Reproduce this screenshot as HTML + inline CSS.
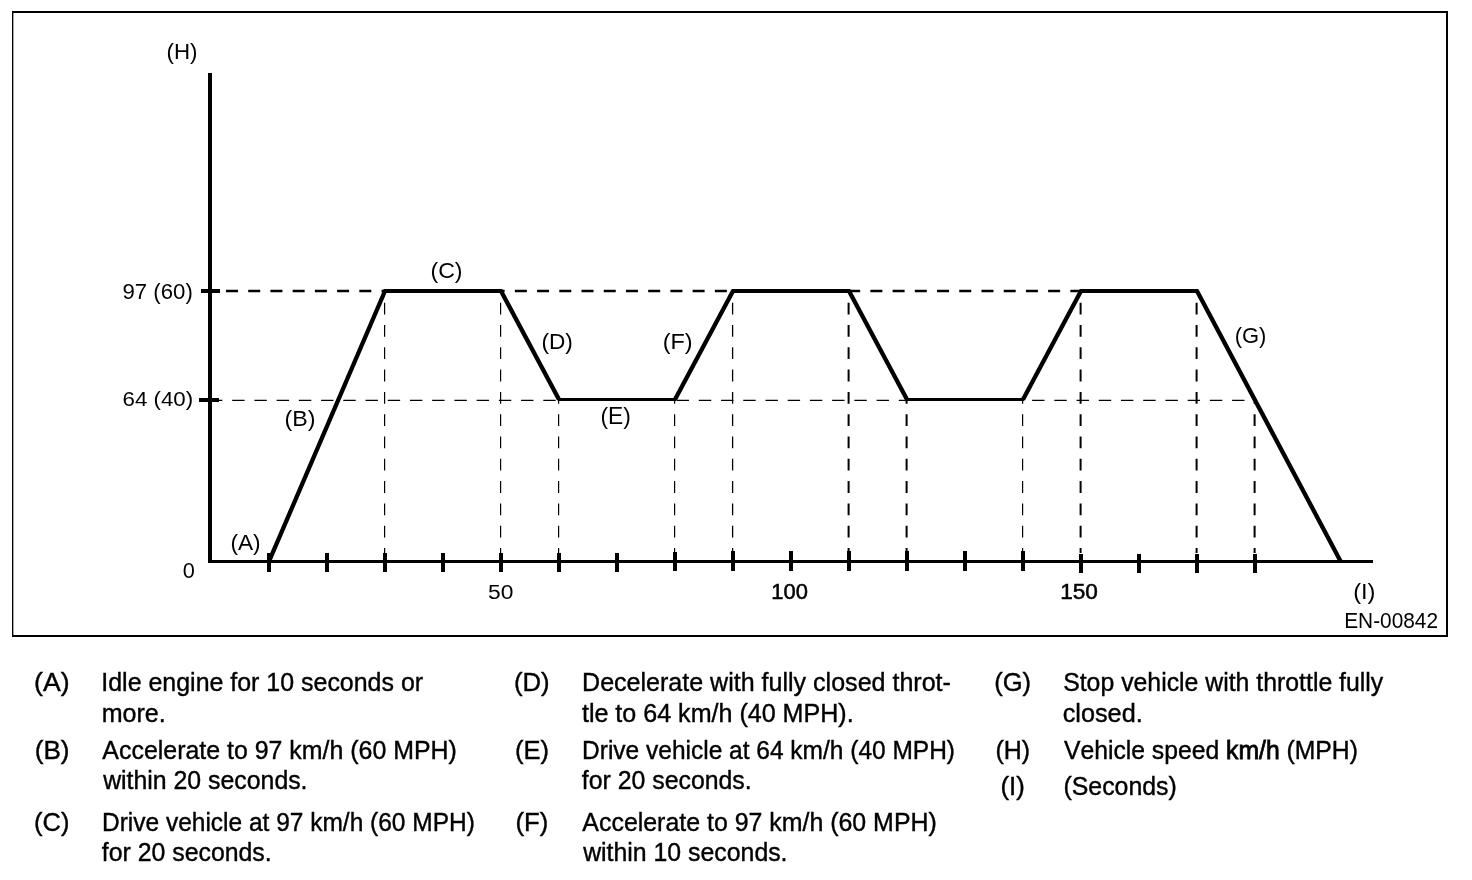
<!DOCTYPE html>
<html><head><meta charset="utf-8"><title>EN-00842</title>
<style>
html,body{margin:0;padding:0;background:#fff;}
body{width:1472px;height:880px;overflow:hidden;}
svg{display:block;position:absolute;left:0;top:0;filter:grayscale(1);}
text{font-family:"Liberation Sans",sans-serif;fill:#000;font-kerning:none;}
</style></head><body>
<svg width="1472" height="880" viewBox="0 0 1472 880">
<rect x="0" y="0" width="1472" height="880" fill="#fff"/>
<g fill="#000" shape-rendering="crispEdges">
<rect x="12" y="11" width="1436" height="2"/>
<rect x="12" y="635" width="1436" height="2"/>
<rect x="12" y="11" width="1.35" height="626" shape-rendering="geometricPrecision"/>
<rect x="1446" y="11" width="2" height="626"/>
</g>
<g stroke="#000" fill="none">
<line x1="226" y1="291" x2="1197" y2="291" stroke-width="2.4" stroke-dasharray="12 10.22"/>
<line x1="209.98" y1="400.4" x2="1246" y2="400.4" stroke-width="1.3" stroke-dasharray="12.4 9.82"/>
<line x1="384.6" y1="302.7" x2="384.6" y2="553" stroke-width="1.2" stroke-dasharray="11.8 10.50" stroke-dashoffset="0.00"/>
<line x1="500.6" y1="302.7" x2="500.6" y2="553" stroke-width="1.2" stroke-dasharray="11.8 10.50" stroke-dashoffset="0.00"/>
<line x1="558.6" y1="399.4" x2="558.6" y2="553" stroke-width="1.2" stroke-dasharray="11.8 10.50" stroke-dashoffset="7.50"/>
<line x1="674.6" y1="399.4" x2="674.6" y2="553" stroke-width="1.2" stroke-dasharray="11.8 10.50" stroke-dashoffset="7.50"/>
<line x1="732.6" y1="302.7" x2="732.6" y2="553" stroke-width="1.3" stroke-dasharray="11.8 10.50" stroke-dashoffset="0.00"/>
<line x1="848.6" y1="302.7" x2="848.6" y2="553" stroke-width="2" stroke-dasharray="11.8 10.50" stroke-dashoffset="0.00"/>
<line x1="906.6" y1="399.4" x2="906.6" y2="553" stroke-width="2" stroke-dasharray="11.8 10.50" stroke-dashoffset="7.50"/>
<line x1="1022.6" y1="399.4" x2="1022.6" y2="553" stroke-width="1.2" stroke-dasharray="11.8 10.50" stroke-dashoffset="7.50"/>
<line x1="1080.6" y1="302.7" x2="1080.6" y2="553" stroke-width="2" stroke-dasharray="11.8 10.50" stroke-dashoffset="0.00"/>
<line x1="1196.6" y1="302.7" x2="1196.6" y2="553" stroke-width="2" stroke-dasharray="11.8 10.50" stroke-dashoffset="0.00"/>
<line x1="1254.6" y1="399.4" x2="1254.6" y2="553" stroke-width="2" stroke-dasharray="11.8 10.50" stroke-dashoffset="7.50"/>
</g>
<g fill="#000" shape-rendering="crispEdges">
<rect x="208" y="73" width="4" height="490"/>
<rect x="208" y="560" width="1165" height="3"/>
<rect x="201" y="289" width="19" height="4"/>
<rect x="199" y="398" width="20" height="4"/>
<rect x="267.0" y="553.0" width="4" height="18.7"/>
<rect x="325.0" y="553.0" width="4" height="18.7"/>
<rect x="383.0" y="553.0" width="4" height="18.7"/>
<rect x="441.0" y="553.0" width="4" height="18.7"/>
<rect x="499.0" y="553.0" width="4" height="18.7"/>
<rect x="557.0" y="553.0" width="4" height="18.7"/>
<rect x="615.0" y="553.0" width="4" height="18.7"/>
<rect x="673.0" y="552.0" width="4" height="19.0"/>
<rect x="731.0" y="551.0" width="4" height="20.0"/>
<rect x="789.0" y="551.0" width="4" height="20.0"/>
<rect x="847.0" y="551.0" width="4" height="20.0"/>
<rect x="905.0" y="551.0" width="4" height="20.0"/>
<rect x="963.0" y="551.0" width="4" height="20.0"/>
<rect x="1021.0" y="551.0" width="4" height="20.0"/>
<rect x="1079.0" y="553.5" width="4" height="19.5"/>
<rect x="1137.0" y="553.5" width="4" height="19.5"/>
<rect x="1195.0" y="553.5" width="4" height="19.5"/>
<rect x="1253.0" y="553.5" width="4" height="19.5"/>
</g>
<polyline fill="none" stroke="#000" stroke-width="3.0" stroke-linejoin="miter" points="269.0,561.4 385.0,291.0 501.0,291.0 559.0,399.4 675.0,399.4 733.0,291.0 849.0,291.0 907.0,399.4 1023.0,399.4 1081.0,291.0 1197.0,291.0 1340.7,561.4"/>
<line x1="269.0" y1="561.4" x2="385.0" y2="291.0" stroke="#000" stroke-width="4.3"/>
<line x1="383.5" y1="291.0" x2="502.5" y2="291.0" stroke="#000" stroke-width="3.8"/>
<line x1="501.0" y1="291.0" x2="559.0" y2="399.4" stroke="#000" stroke-width="4.3"/>
<line x1="675.0" y1="399.4" x2="733.0" y2="291.0" stroke="#000" stroke-width="4.3"/>
<line x1="731.5" y1="291.0" x2="850.5" y2="291.0" stroke="#000" stroke-width="3.8"/>
<line x1="849.0" y1="291.0" x2="907.0" y2="399.4" stroke="#000" stroke-width="4.3"/>
<line x1="1023.0" y1="399.4" x2="1081.0" y2="291.0" stroke="#000" stroke-width="4.3"/>
<line x1="1079.5" y1="291.0" x2="1198.5" y2="291.0" stroke="#000" stroke-width="3.8"/>
<line x1="1197.0" y1="291.0" x2="1340.7" y2="561.4" stroke="#000" stroke-width="4.3"/>
<g>
<text transform="translate(166.52,59.00) scale(1.0186,1)" font-size="21.9">(H)</text>
<text transform="translate(122.46,298.70) scale(1.0419,1)" font-size="21.3">97 (60)</text>
<text transform="translate(122.47,406.40) scale(1.0628,1)" font-size="21.0">64 (40)</text>
<text transform="translate(182.85,577.70) scale(1.0262,1)" font-size="21.2">0</text>
<text transform="translate(230.39,549.90) scale(0.9897,1)" font-size="22.9">(A)</text>
<text transform="translate(284.56,425.85) scale(1.0150,1)" font-size="22.9">(B)</text>
<text transform="translate(430.47,277.70) scale(1.0266,1)" font-size="22.5">(C)</text>
<text transform="translate(541.39,348.90) scale(1.0414,1)" font-size="21.8">(D)</text>
<text transform="translate(600.48,423.80) scale(0.9926,1)" font-size="23.0">(E)</text>
<text transform="translate(662.75,348.90) scale(1.0743,1)" font-size="21.8">(F)</text>
<text transform="translate(1234.64,342.80) scale(1.0126,1)" font-size="21.7">(G)</text>
<text transform="translate(1353.13,599.00) scale(1.0855,1)" font-size="21.8">(I)</text>
<text transform="translate(487.99,598.70) scale(1.0877,1)" font-size="21.0">50</text>
<text transform="translate(771.23,598.70) scale(1.0356,1)" font-size="21.2" stroke="#000" stroke-width="0.5">100</text>
<text transform="translate(1060.18,598.70) scale(1.0660,1)" font-size="21.2" stroke="#000" stroke-width="0.5">150</text>
<text transform="translate(1344.19,627.90) scale(0.9315,1)" font-size="22.4">EN-00842</text>
</g>
<g>
<text transform="translate(34.05,690.80) scale(1.0127,1)" font-size="26.3" stroke="#000" stroke-width="0.4">(A)</text>
<text transform="translate(101.30,690.80) scale(0.9493,1)" font-size="26.3" stroke="#000" stroke-width="0.4">Idle engine for 10 seconds or</text>
<text transform="translate(101.74,721.80) scale(0.9528,1)" font-size="26.3" stroke="#000" stroke-width="0.4">more.</text>
<text transform="translate(34.68,758.90) scale(0.9938,1)" font-size="26.3" stroke="#000" stroke-width="0.4">(B)</text>
<text transform="translate(102.35,758.90) scale(0.9479,1)" font-size="26.3" stroke="#000" stroke-width="0.4">Accelerate to 97 km/h (60 MPH)</text>
<text transform="translate(103.14,788.80) scale(0.9448,1)" font-size="26.3" stroke="#000" stroke-width="0.4">within 20 seconds.</text>
<text transform="translate(34.12,830.50) scale(0.9685,1)" font-size="26.3" stroke="#000" stroke-width="0.4">(C)</text>
<text transform="translate(101.99,830.50) scale(0.9312,1)" font-size="26.3" stroke="#000" stroke-width="0.4">Drive vehicle at 97 km/h (60 MPH)</text>
<text transform="translate(101.75,861.40) scale(0.9455,1)" font-size="26.3" stroke="#000" stroke-width="0.4">for 20 seconds.</text>
<text transform="translate(513.91,690.80) scale(0.9775,1)" font-size="26.3" stroke="#000" stroke-width="0.4">(D)</text>
<text transform="translate(582.04,690.80) scale(0.9528,1)" font-size="26.3" stroke="#000" stroke-width="0.4">Decelerate with fully closed throt-</text>
<text transform="translate(581.92,721.80) scale(0.9539,1)" font-size="26.3" stroke="#000" stroke-width="0.4">tle to 64 km/h (40 MPH).</text>
<text transform="translate(515.02,758.90) scale(0.9718,1)" font-size="26.3" stroke="#000" stroke-width="0.4">(E)</text>
<text transform="translate(582.09,758.90) scale(0.9315,1)" font-size="26.3" stroke="#000" stroke-width="0.4">Drive vehicle at 64 km/h (40 MPH)</text>
<text transform="translate(581.75,788.80) scale(0.9455,1)" font-size="26.3" stroke="#000" stroke-width="0.4">for 20 seconds.</text>
<text transform="translate(515.41,830.50) scale(0.9763,1)" font-size="26.3" stroke="#000" stroke-width="0.4">(F)</text>
<text transform="translate(582.35,830.50) scale(0.9476,1)" font-size="26.3" stroke="#000" stroke-width="0.4">Accelerate to 97 km/h (60 MPH)</text>
<text transform="translate(583.14,861.40) scale(0.9448,1)" font-size="26.3" stroke="#000" stroke-width="0.4">within 10 seconds.</text>
<text transform="translate(994.22,690.80) scale(0.9709,1)" font-size="26.3" stroke="#000" stroke-width="0.4">(G)</text>
<text transform="translate(1063.17,690.80) scale(0.9444,1)" font-size="26.3" stroke="#000" stroke-width="0.4">Stop vehicle with throttle fully</text>
<text transform="translate(1062.73,721.60) scale(0.9598,1)" font-size="26.3" stroke="#000" stroke-width="0.4">closed.</text>
<text transform="translate(995.45,758.90) scale(0.9474,1)" font-size="26.3" stroke="#000" stroke-width="0.4">(H)</text>
<text transform="translate(1063.89,758.90) scale(0.9407,1)" font-size="26.3" stroke="#000" stroke-width="0.4">Vehicle speed <tspan stroke-width="0.8">km/h</tspan> (MPH)</text>
<text transform="translate(1000.50,795.00) scale(0.9786,1)" font-size="26.3" stroke="#000" stroke-width="0.4">(I)</text>
<text transform="translate(1063.46,795.00) scale(0.9459,1)" font-size="26.3" stroke="#000" stroke-width="0.4">(Seconds)</text>
</g>
</svg></body></html>
